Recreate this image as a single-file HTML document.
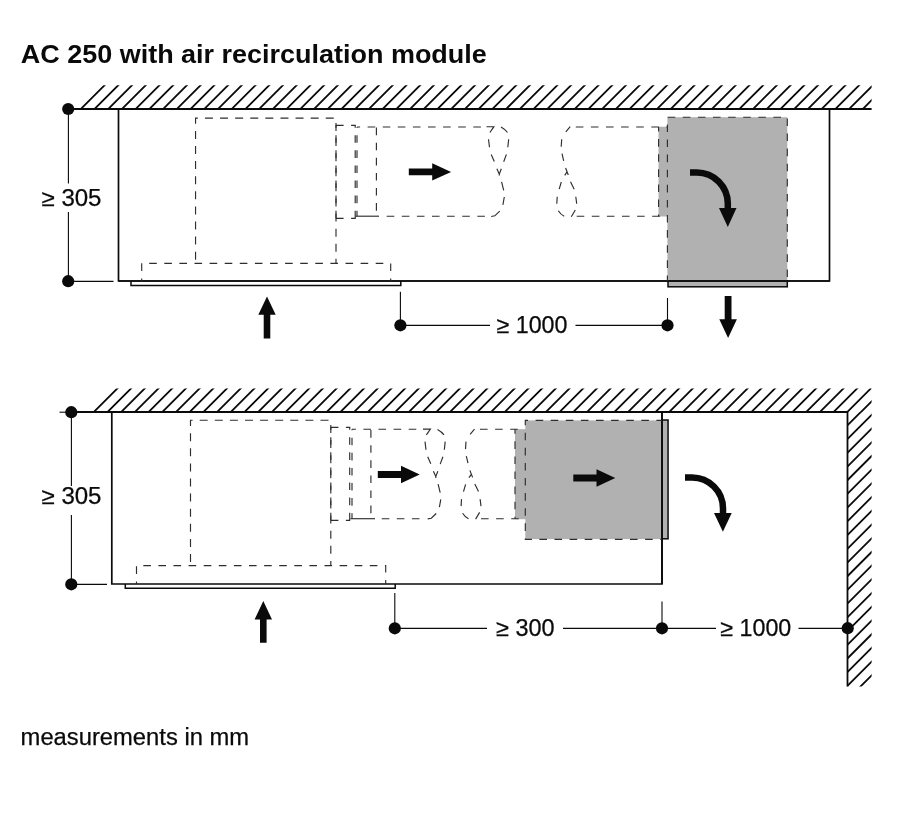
<!DOCTYPE html>
<html lang="en"><head><meta charset="utf-8"><title>AC 250 with air recirculation module</title>
<style>html,body{margin:0;padding:0;background:#fff}svg{display:block;will-change:transform}</style></head>
<body>
<svg width="900" height="818" viewBox="0 0 900 818">
<defs>
<clipPath id="h1"><path d="M78.8,109L102.5,85.3H871.6V109Z"/></clipPath>
<clipPath id="h2"><path d="M91.8,412L115.4,388.4H871.6V412Z"/></clipPath><clipPath id="h3"><path d="M847.5,412H871.6V686.4H847.5Z"/></clipPath>
</defs>
<rect width="900" height="818" fill="#fff"/>
<text x="20.8" y="63" font-family="'Liberation Sans', Arial, sans-serif" font-weight="700" font-size="25.5" textLength="466" lengthAdjust="spacingAndGlyphs" fill="#0a0a0a">AC 250 with air recirculation module</text>
<text x="20.6" y="744.5" font-family="'Liberation Sans', Arial, sans-serif" font-size="23" stroke="#0a0a0a" stroke-width="0.25" textLength="228.5" lengthAdjust="spacingAndGlyphs" fill="#0a0a0a">measurements in mm</text>
<g fill="none" stroke="#0a0a0a">
<path clip-path="url(#h1)" stroke-width="1.8" d="M36.64,112.00L66.34,82.30M50.36,112.00L80.06,82.30M64.08,112.00L93.78,82.30M77.80,112.00L107.50,82.30M91.52,112.00L121.22,82.30M105.24,112.00L134.94,82.30M118.96,112.00L148.66,82.30M132.68,112.00L162.38,82.30M146.40,112.00L176.10,82.30M160.12,112.00L189.82,82.30M173.84,112.00L203.54,82.30M187.56,112.00L217.26,82.30M201.28,112.00L230.98,82.30M215.00,112.00L244.70,82.30M228.72,112.00L258.42,82.30M242.44,112.00L272.14,82.30M256.16,112.00L285.86,82.30M269.88,112.00L299.58,82.30M283.60,112.00L313.30,82.30M297.32,112.00L327.02,82.30M311.04,112.00L340.74,82.30M324.76,112.00L354.46,82.30M338.48,112.00L368.18,82.30M352.20,112.00L381.90,82.30M365.92,112.00L395.62,82.30M379.64,112.00L409.34,82.30M393.36,112.00L423.06,82.30M407.08,112.00L436.78,82.30M420.80,112.00L450.50,82.30M434.52,112.00L464.22,82.30M448.24,112.00L477.94,82.30M461.96,112.00L491.66,82.30M475.68,112.00L505.38,82.30M489.40,112.00L519.10,82.30M503.12,112.00L532.82,82.30M516.84,112.00L546.54,82.30M530.56,112.00L560.26,82.30M544.28,112.00L573.98,82.30M558.00,112.00L587.70,82.30M571.72,112.00L601.42,82.30M585.44,112.00L615.14,82.30M599.16,112.00L628.86,82.30M612.88,112.00L642.58,82.30M626.60,112.00L656.30,82.30M640.32,112.00L670.02,82.30M654.04,112.00L683.74,82.30M667.76,112.00L697.46,82.30M681.48,112.00L711.18,82.30M695.20,112.00L724.90,82.30M708.92,112.00L738.62,82.30M722.64,112.00L752.34,82.30M736.36,112.00L766.06,82.30M750.08,112.00L779.78,82.30M763.80,112.00L793.50,82.30M777.52,112.00L807.22,82.30M791.24,112.00L820.94,82.30M804.96,112.00L834.66,82.30M818.68,112.00L848.38,82.30M832.40,112.00L862.10,82.30M846.12,112.00L875.82,82.30M859.84,112.00L889.54,82.30M873.56,112.00L903.26,82.30M887.28,112.00L916.98,82.30"/>
<path stroke-width="1.8" d="M68,109H871.6"/>
<path stroke-width="1.7" d="M118.5,109V281H829.5V109"/>
<path stroke-width="1.5" d="M131,281V285.4H400.8V281" />
<path stroke-width="1.1" d="M68.4,109V183.5M68.4,212V281M68,281.4H113.5"/>
<path stroke-width="1.1" d="M400.4,291.8V325.4H490M575.5,325.4H667.5V298"/>
</g>
<rect x="658.5" y="126.7" width="9.5" height="89.8" fill="#b1b1b1"/>
<rect x="667.4" y="117.2" width="119.9" height="164" fill="#b1b1b1"/>
<rect x="668" y="281" width="119.3" height="5.8" fill="#b1b1b1" stroke="#0a0a0a" stroke-width="1.5"/>
<path stroke="#0a0a0a" stroke-width="1.7" fill="none" d="M118.5,281H829.5"/>
<g fill="none" stroke="#2e2e2e" stroke-width="1.15">
<path d="M195.55,263.3V118.1H336V263.3" stroke-dasharray="8 7.1" stroke-dashoffset="11.5"/>
<path d="M141.7,281V263.3H390.7V281" stroke-dasharray="7.6 7.5" stroke-dashoffset="5"/>
<path d="M336,218.3V125.3M355.2,218.3V125.3" stroke-dasharray="7.6 7.5" stroke-dashoffset="0"/>
<path d="M336,125.3H355.7M336,218.3H355.7" stroke-dasharray="7.6 7.5" stroke-dashoffset="0"/>
<path d="M357,216.2V127" stroke-dasharray="7.6 7.5" stroke-dashoffset="2.1"/>
<path d="M376.4,216.2V127" stroke-dasharray="7.6 7.5" stroke-dashoffset="9.6"/>
<path d="M357,127H481" stroke-dasharray="7.6 7.5" stroke-dashoffset="4.5"/>
<path d="M355.5,216.2H379"/>
<path d="M386.7,216.2H485" stroke-dasharray="7.6 7.5" stroke-dashoffset="0"/>
<path transform="translate(499.3,171.6)" stroke-dasharray="none" d="M-12.8,-44.9H-5.4L-9.4,-39.1 M-10.8,-32.4L-9.8,-24.3 M-8.1,-17.2L-5,-10.2 M-2.4,-2.8L0,2.6L2,-2.8 M0,2.6V3.9 M2.3,10.2L4.4,18.7 M5,25.4L3.6,33.2 M0.4,39.5L-4.5,44.2L-8.1,44.9 M1.7,-44.5Q6,-42.1 8.2,-39.1 M9.4,-32.4L8.5,-24.3 M7.1,-17.2L4.4,-9.9"/>
<path transform="translate(566.5,171.6)" stroke-dasharray="none" d="M3.7,-44.9L-0.7,-39.7 M-4.8,-32.4L-5.3,-24.9 M-4.5,-17.9L-2.8,-10.8 M-0.9,-3.6L1.8,3.4 M0.7,0.1L-1.8,3.7 M-5.2,10.4L-7.3,17.6 M-9.3,25.1L-9.7,32.1 M-8.2,39.2Q-5.8,43 -2.3,44.7 M4,10.1L7.7,17.6 M9.3,25.1L10.2,32.1 M8.8,38.4L4.8,45.1"/>
<path d="M575.8,127H667" stroke-dasharray="7.6 7.5" stroke-dashoffset="0"/>
<path d="M576.7,216.2H667" stroke-dasharray="7.6 7.5" stroke-dashoffset="0"/>
<path d="M658.6,127V216.2" stroke-dasharray="7.6 7.5" stroke-dashoffset="3"/>
<path d="M667.4,281V117.2H787.3V281" stroke-dasharray="7.6 7.5" stroke-dashoffset="2"/>
</g>
<g fill="#0a0a0a">
<path d="M408.8,168.45000000000002H432.2V163.20000000000002L451.1,171.9L432.2,180.6V175.35H408.8Z"/>
<path d="M263.7,338.4V314.7H258.3L267.0,296.6L275.7,314.7H270.3V338.4Z"/>
<path d="M724.7,296V319.3H719.3000000000001L728.1,338L736.9,319.3H731.5V296Z"/>
<path d="M719,207.9H736.5L727.8,227Z"/>
<circle cx="68.2" cy="109" r="6.1"/><circle cx="68.2" cy="281.2" r="6.1"/>
<circle cx="400.4" cy="325.3" r="6.1"/><circle cx="667.5" cy="325.3" r="6.1"/>
</g>
<path fill="none" stroke="#0a0a0a" stroke-width="6.5" d="M690,172.5H696.8A31,31 0 0 1 727.8,203.5V210"/>
<text x="41.5" y="205.5" font-family="'Liberation Sans', Arial, sans-serif" font-size="23" fill="#0a0a0a" stroke="#0a0a0a" stroke-width="0.25" textLength="60" lengthAdjust="spacingAndGlyphs">≥ 305</text>
<text x="496.5" y="332.5" font-family="'Liberation Sans', Arial, sans-serif" font-size="23" fill="#0a0a0a" stroke="#0a0a0a" stroke-width="0.25" textLength="71" lengthAdjust="spacingAndGlyphs">≥ 1000</text>
<g fill="none" stroke="#0a0a0a">
<path clip-path="url(#h2)" stroke-width="1.8" d="M49.70,415.00L79.70,385.00M63.40,415.00L93.40,385.00M77.10,415.00L107.10,385.00M90.80,415.00L120.80,385.00M104.50,415.00L134.50,385.00M118.20,415.00L148.20,385.00M131.90,415.00L161.90,385.00M145.60,415.00L175.60,385.00M159.30,415.00L189.30,385.00M173.00,415.00L203.00,385.00M186.70,415.00L216.70,385.00M200.40,415.00L230.40,385.00M214.10,415.00L244.10,385.00M227.80,415.00L257.80,385.00M241.50,415.00L271.50,385.00M255.20,415.00L285.20,385.00M268.90,415.00L298.90,385.00M282.60,415.00L312.60,385.00M296.30,415.00L326.30,385.00M310.00,415.00L340.00,385.00M323.70,415.00L353.70,385.00M337.40,415.00L367.40,385.00M351.10,415.00L381.10,385.00M364.80,415.00L394.80,385.00M378.50,415.00L408.50,385.00M392.20,415.00L422.20,385.00M405.90,415.00L435.90,385.00M419.60,415.00L449.60,385.00M433.30,415.00L463.30,385.00M447.00,415.00L477.00,385.00M460.70,415.00L490.70,385.00M474.40,415.00L504.40,385.00M488.10,415.00L518.10,385.00M501.80,415.00L531.80,385.00M515.50,415.00L545.50,385.00M529.20,415.00L559.20,385.00M542.90,415.00L572.90,385.00M556.60,415.00L586.60,385.00M570.30,415.00L600.30,385.00M584.00,415.00L614.00,385.00M597.70,415.00L627.70,385.00M611.40,415.00L641.40,385.00M625.10,415.00L655.10,385.00M638.80,415.00L668.80,385.00M652.50,415.00L682.50,385.00M666.20,415.00L696.20,385.00M679.90,415.00L709.90,385.00M693.60,415.00L723.60,385.00M707.30,415.00L737.30,385.00M721.00,415.00L751.00,385.00M734.70,415.00L764.70,385.00M748.40,415.00L778.40,385.00M762.10,415.00L792.10,385.00M775.80,415.00L805.80,385.00M789.50,415.00L819.50,385.00M803.20,415.00L833.20,385.00M816.90,415.00L846.90,385.00M830.60,415.00L860.60,385.00M844.30,415.00L874.30,385.00M858.00,415.00L888.00,385.00M871.70,415.00L901.70,385.00M885.40,415.00L915.40,385.00"/>
<path clip-path="url(#h3)" stroke-width="1.8" d="M541.67,690.00L822.67,409.00M555.38,690.00L836.38,409.00M569.09,690.00L850.09,409.00M582.80,690.00L863.80,409.00M596.51,690.00L877.51,409.00M610.22,690.00L891.22,409.00M623.93,690.00L904.93,409.00M637.64,690.00L918.64,409.00M651.35,690.00L932.35,409.00M665.06,690.00L946.06,409.00M678.77,690.00L959.77,409.00M692.48,690.00L973.48,409.00M706.19,690.00L987.19,409.00M719.90,690.00L1000.90,409.00M733.61,690.00L1014.61,409.00M747.32,690.00L1028.32,409.00M761.03,690.00L1042.03,409.00M774.74,690.00L1055.74,409.00M788.45,690.00L1069.45,409.00M802.16,690.00L1083.16,409.00M815.87,690.00L1096.87,409.00M829.58,690.00L1110.58,409.00M843.29,690.00L1124.29,409.00M857.00,690.00L1138.00,409.00M870.71,690.00L1151.71,409.00M884.42,690.00L1165.42,409.00"/>
<path stroke-width="1.8" d="M71,412H847.5V686.4"/>
<path stroke-width="1.1" d="M59.5,412.2H72"/>
<path stroke-width="1.7" d="M111.8,412V584H662V412"/>
<path stroke-width="1.5" d="M125.3,584V588.2H395.2V584"/>
<path stroke-width="1.1" d="M71.4,412V486M71.4,515V584M71,584.4H107"/>
<path stroke-width="1.1" d="M394.8,593V628.4H487M563,628.4H716M798.5,628.4H847.5M662,601.5V628.4"/>
</g>
<rect x="515" y="429.2" width="11" height="90" fill="#b1b1b1"/>
<rect x="525.3" y="420.4" width="136.7" height="118.7" fill="#b1b1b1"/>
<rect x="662" y="420" width="6.05" height="118.8" fill="#b1b1b1" stroke="#0a0a0a" stroke-width="1.5"/>
<path stroke="#0a0a0a" stroke-width="1.7" fill="none" d="M662,412V584"/>
<g fill="none" stroke="#2e2e2e" stroke-width="1.15">
<path d="M190.5,565.6V420.2H330.8V565.6" stroke-dasharray="8 7.1" stroke-dashoffset="11.5"/>
<path d="M136.5,584V565.6H385.7V584" stroke-dasharray="7.6 7.5" stroke-dashoffset="5"/>
<path d="M330.8,520.3V427.3M349.7,520.3V427.3" stroke-dasharray="7.6 7.5" stroke-dashoffset="0"/>
<path d="M330.8,427.3H350.2M330.8,520.3H350.2" stroke-dasharray="7.6 7.5" stroke-dashoffset="0"/>
<path d="M352,518.7V429.2" stroke-dasharray="7.6 7.5" stroke-dashoffset="2.1"/>
<path d="M370.9,518.7V429.2" stroke-dasharray="7.6 7.5" stroke-dashoffset="9.6"/>
<path d="M352,429.2H418" stroke-dasharray="7.6 7.5" stroke-dashoffset="3.7"/>
<path d="M350.5,518.7H375"/>
<path d="M381.7,518.7H421" stroke-dasharray="7.6 7.5" stroke-dashoffset="0"/>
<path transform="translate(435.8,474)" stroke-dasharray="none" d="M-12.8,-44.9H-5.4L-9.4,-39.1 M-10.8,-32.4L-9.8,-24.3 M-8.1,-17.2L-5,-10.2 M-2.4,-2.8L0,2.6L2,-2.8 M0,2.6V3.9 M2.3,10.2L4.4,18.7 M5,25.4L3.6,33.2 M0.4,39.5L-4.5,44.2L-8.1,44.9 M1.7,-44.5Q6,-42.1 8.2,-39.1 M9.4,-32.4L8.5,-24.3 M7.1,-17.2L4.4,-9.9"/>
<path transform="translate(470.8,474)" stroke-dasharray="none" d="M3.7,-44.9L-0.7,-39.7 M-4.8,-32.4L-5.3,-24.9 M-4.5,-17.9L-2.8,-10.8 M-0.9,-3.6L1.8,3.4 M0.7,0.1L-1.8,3.7 M-5.2,10.4L-7.3,17.6 M-9.3,25.1L-9.7,32.1 M-8.2,39.2Q-5.8,43 -2.3,44.7 M4,10.1L7.7,17.6 M9.3,25.1L10.2,32.1 M8.8,38.4L4.8,45.1"/>
<path d="M480,429.2H525" stroke-dasharray="7.6 7.5" stroke-dashoffset="0"/>
<path d="M481,518.7H525" stroke-dasharray="7.6 7.5" stroke-dashoffset="0"/>
<path d="M515,429.2V518.7" stroke-dasharray="7.6 7.5" stroke-dashoffset="3"/>
<path d="M662,420.4H525.3V539.4H662" stroke-dasharray="7.6 7.5" stroke-dashoffset="2"/>
</g>
<g fill="#0a0a0a">
<path d="M377.8,471.05H401V465.8L419.7,474.5L401,483.2V477.95H377.8Z"/>
<path d="M573.3,474.55H596.5V469.3L615.3,478L596.5,486.7V481.45H573.3Z"/>
<path d="M260.0,642.8V619.5H254.60000000000002L263.3,601L272.0,619.5H266.6V642.8Z"/>
<path d="M714,512.9H731.7L722.9,531.8Z"/>
<circle cx="71.3" cy="412.2" r="6.1"/><circle cx="71.3" cy="584.3" r="6.1"/>
<circle cx="394.8" cy="628.3" r="6.1"/><circle cx="662" cy="628.3" r="6.1"/><circle cx="847.7" cy="628.2" r="6.1"/>
</g>
<path fill="none" stroke="#0a0a0a" stroke-width="6.5" d="M685,477.4H692A31,31 0 0 1 723,508.4V515"/>
<text x="41.5" y="504" font-family="'Liberation Sans', Arial, sans-serif" font-size="23" fill="#0a0a0a" stroke="#0a0a0a" stroke-width="0.25" textLength="60" lengthAdjust="spacingAndGlyphs">≥ 305</text>
<text x="496" y="636" font-family="'Liberation Sans', Arial, sans-serif" font-size="23" fill="#0a0a0a" stroke="#0a0a0a" stroke-width="0.25" textLength="58.5" lengthAdjust="spacingAndGlyphs">≥ 300</text>
<text x="720.3" y="636" font-family="'Liberation Sans', Arial, sans-serif" font-size="23" fill="#0a0a0a" stroke="#0a0a0a" stroke-width="0.25" textLength="71" lengthAdjust="spacingAndGlyphs">≥ 1000</text>
</svg>
</body></html>
